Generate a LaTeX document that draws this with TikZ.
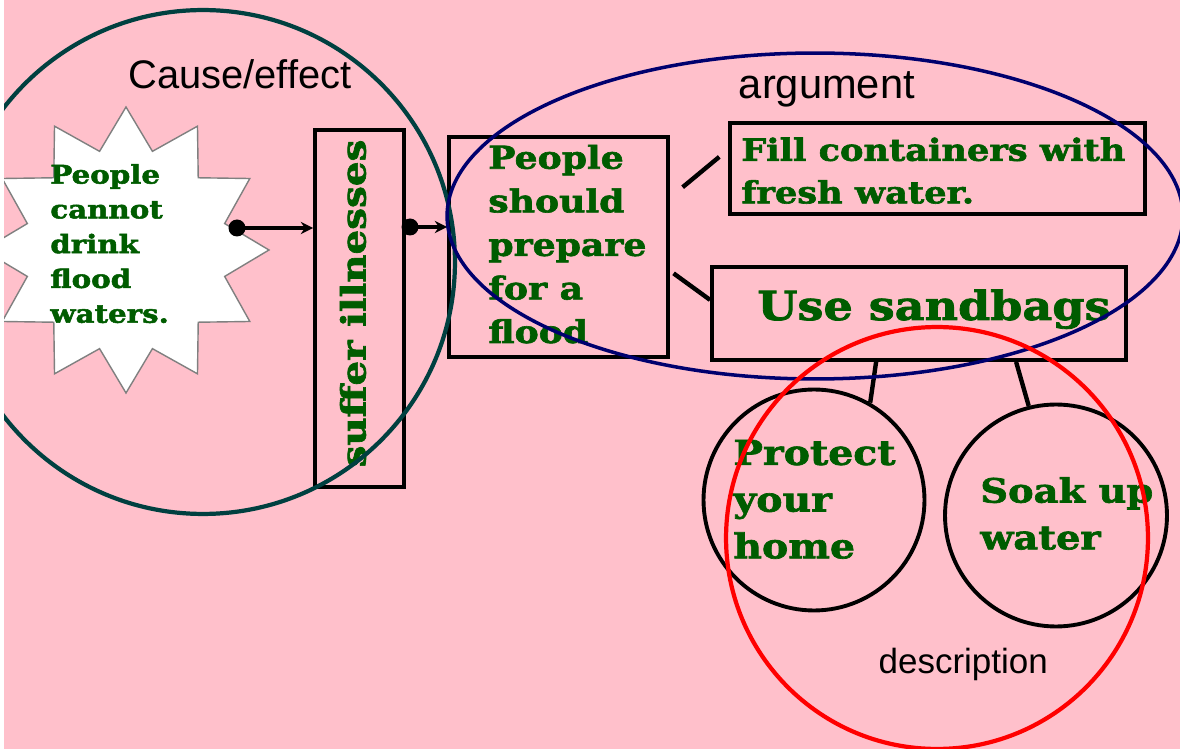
\documentclass[tikz,border=0pt]{standalone}
\usepackage{fontspec}
\setmainfont{Liberation Sans}
\newfontfamily\slab{DejaVu Serif}[FakeStretch=1.15,FakeBold=2]
\usetikzlibrary{arrows.meta,calc,shapes.geometric}

\definecolor{bgpink}{RGB}{255,192,203}
\definecolor{leafgreen}{RGB}{0,92,0}
\definecolor{tealring}{RGB}{0,64,64}
\definecolor{navyring}{RGB}{0,0,110}
\definecolor{burstedge}{RGB}{128,128,128}

\begin{document}
\begin{tikzpicture}[x=0.02cm,y=-0.02cm,
	box/.style={draw,line width=2.2pt,inner sep=0pt},
	bubble/.style={draw,circle,line width=2.2pt,inner sep=0pt},
	words/.style={text=leafgreen,inner sep=0pt,anchor=base west,align=left},
	tag/.style={inner sep=0pt,anchor=base west},
	link/.style={line width=2.5pt},
	ring/.style={line width=2.4pt}]

		\useasboundingbox (0,0) rectangle (1180,749);
		\fill [bgpink] (4,0) rectangle (1180,749);
		\clip (4,0) rectangle (1180,749);

		% cause side
		\node [star,star points=12,star point ratio=1.4,minimum size=5.72cm,inner sep=0pt,
			fill=white,draw=burstedge,line width=0.8pt] (burst) at (126,250) {};
		% multi-line texts sit on their last line
		\node [words,font=\slab\bfseries\fontsize{14.5}{19.8}\selectfont] (burstText) at (50,322.7)
			{People\\cannot\\drink\\flood\\waters.};

		\node [box,minimum width=1.78cm,minimum height=7.14cm] (ill) at (359.5,308.5) {};
		\node [text=leafgreen,inner sep=0pt,rotate=90,font=\slab\bfseries\fontsize{19.2}{20}\selectfont]
			(illText) at (353,303.5) {suffer illnesses};

		% argument side
		\node [box,minimum width=4.38cm,minimum height=4.4cm] (prep) at (558.5,247) {};
		\node [words,font=\slab\bfseries\fontsize{17.9}{24.8}\selectfont] (prepText) at (488,343)
			{People\\should\\prepare\\for a\\flood};

		\node [box,minimum width=8.3cm,minimum height=1.82cm] (fill) at (937.5,168.5) {};
		\node [words,font=\slab\bfseries\fontsize{17.4}{24.2}\selectfont] (fillText) at (741,203.3)
			{Fill containers with\\fresh water.};

		\node [box,minimum width=8.28cm,minimum height=1.86cm] (bags) at (919,313.5) {};
		\node [words,font=\slab\bfseries\fontsize{22.8}{24}\selectfont] (bagsText) at (757,320)
			{Use sandbags};

		% description side
		\node [bubble,minimum size=4.42cm] (protect) at (814,500) {};
		\node [words,font=\slab\bfseries\fontsize{19.5}{26.6}\selectfont] (protectText) at (733,558.3)
			{Protect\\your\\home};

		\node [bubble,minimum size=4.44cm] (soak) at (1056,515.5) {};
		\node [words,font=\slab\bfseries\fontsize{19}{26.6}\selectfont] (soakText) at (980,549.3)
			{Soak up\\water};

		% connectors
		\coordinate (dotA) at (237,228);
		\coordinate (dotB) at (410,227);
		\draw [link,-{Stealth[length=7pt,width=7pt]}] (dotA) -- (dotA -| ill.west);
		\draw [link,-{Stealth[length=7pt,width=7pt]}] (dotB) -- (dotB -| prep.west);
		\fill (dotA) circle [radius=0.17cm];
		\fill (dotB) circle [radius=0.17cm];

		\draw [link,shorten <=0.33cm,shorten >=0.23cm]
			($(prep.north east)!.28!(prep.south east)$) -- ($(fill.north west)!.3!(fill.south west)$);
		\draw [link,shorten <=0.09cm]
			($(prep.north east)!.606!(prep.south east)$) -- ($(bags.north west)!.36!(bags.south west)$);
		\draw [link] ($(bags.south west)+(166,0)$) -- (protect.60);
		\draw [link] ($(bags.south west)+(306,0)$) -- (soak.104);

		% groups
		\draw [ring,tealring] (203,262) circle [radius=5.04cm];
		\draw [ring,navyring,line width=2pt] (815,216) ellipse [x radius=7.36cm,y radius=3.26cm];
		\draw [ring,red] (937,538) circle [radius=4.22cm];

		\node [tag,font=\fontsize{22.7}{26}\selectfont] (causeTag) at (128,88.3) {Cause/effect};
		\node [tag,font=\fontsize{23.7}{26}\selectfont] (argTag) at (738.6,98.3) {argument};
		\node [tag,font=\fontsize{19.9}{24}\selectfont] (descTag) at (878.3,673.3) {description};
\end{tikzpicture}
\end{document}
